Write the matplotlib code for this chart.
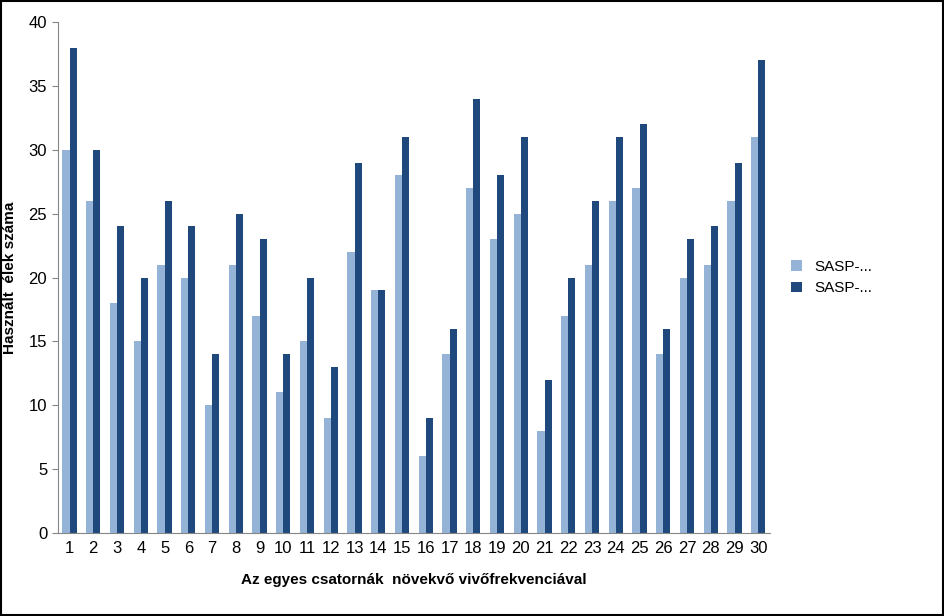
import matplotlib
matplotlib.use("Agg")
import matplotlib.pyplot as plt
import numpy as np

categories = [str(i) for i in range(1, 31)]
series1 = [30,26,18,15,21,20,10,21,17,11,15,9,22,19,28,6,14,27,23,25,8,17,21,26,27,14,20,21,26,31]
series2 = [38,30,24,20,26,24,14,25,23,14,20,13,29,19,31,9,16,34,28,31,12,20,26,31,32,16,23,24,29,37]
names = ["SASP-...", "SASP-..."]

plt.rcParams['font.family'] = ['Liberation Sans', 'DejaVu Sans']
fig = plt.figure(figsize=(9.45, 6.16), dpi=100)
ax = fig.add_axes([0.061, 0.135, 0.754, 0.829])
x = np.arange(len(categories))
w = 0.3
ax.bar(x - w/2, series1, w, color='#95B3D7', label=names[0])
ax.bar(x + w/2, series2, w, color='#1F497D', label=names[1])
ax.set_xlim(-0.5, len(categories) - 0.5)
ax.set_ylim(0, 40)
ax.set_yticks(range(0, 41, 5))
ax.set_xticks(x)
ax.set_xticklabels(categories)
ax.tick_params(axis='both', labelsize=12, length=4, color='#868686')
ax.tick_params(axis='x', length=0, pad=6)
for s in ['top', 'right']:
    ax.spines[s].set_visible(False)
for s in ['left', 'bottom']:
    ax.spines[s].set_color('#868686')
ax.set_xlabel('Az egyes csatornák  növekvő vivőfrekvenciával', fontsize=11, fontweight='bold', labelpad=12)
ax.set_ylabel('Használt  élek száma', fontsize=11, fontweight='bold', labelpad=8)
ax.legend(loc='center left', bbox_to_anchor=(1.01, 0.5), frameon=False, fontsize=11,
          handlelength=0.7, handleheight=0.7)
fig.patches.append(plt.Rectangle((0.001, 0.001), 0.997, 0.997, transform=fig.transFigure,
                                 fill=False, edgecolor='black', linewidth=1.5))
fig.savefig('out.png', dpi=100)
